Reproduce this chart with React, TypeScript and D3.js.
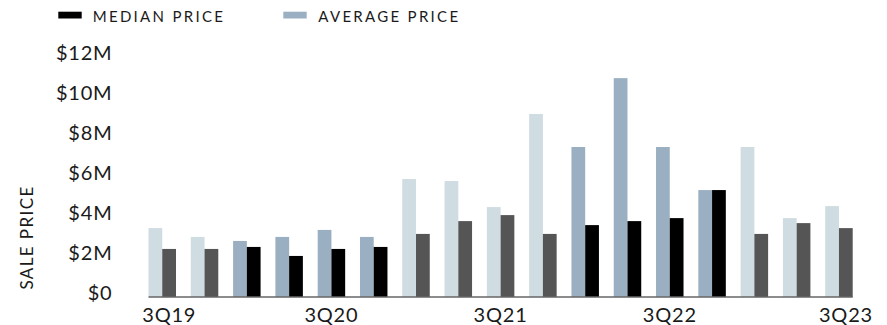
import React from "react";
import * as d3 from "d3";

// Quarterly sale prices, in $ millions
const quarters = [
  "3Q19", "4Q19", "1Q20", "2Q20", "3Q20", "4Q20", "1Q21", "2Q21", "3Q21",
  "4Q21", "1Q22", "2Q22", "3Q22", "4Q22", "1Q23", "2Q23", "3Q23",
];
const averagePrice = [
  3.44, 3.0, 2.8, 3.0, 3.35, 3.0, 5.89, 5.79, 4.49,
  9.14, 7.49, 10.93, 7.49, 5.34, 7.49, 3.94, 4.54,
];
const medianPrice = [
  2.4, 2.4, 2.5, 2.05, 2.4, 2.5, 3.15, 3.79, 4.09,
  3.15, 3.59, 3.79, 3.94, 5.34, 3.15, 3.69, 3.44,
];
// Quarters drawn in the emphasised (darker) palette
const emphasised = [
  false, false, true, true, true, true, false, false, false,
  false, true, true, true, true, false, false, false,
];
const yTicks = [0, 2, 4, 6, 8, 10, 12];
const xLabels = ["3Q19", "3Q20", "3Q21", "3Q22", "3Q23"];

const W = 887;
const H = 325;
const FONT = "Lato, 'Noto Sans', sans-serif";

const COLORS = {
  avgLight: "#cfdce2",
  avgDark: "#9ab0c2",
  medLight: "#555555",
  medDark: "#000000",
  axis: "#666666",
  text: "#1a1a1a",
};

export default function App() {
  const x = d3
    .scaleBand<string>()
    .domain(quarters)
    .range([148.5, 852.7])
    .paddingInner(0.35)
    .paddingOuter(0);
  const inner = d3
    .scaleBand<string>()
    .domain(["avg", "med"])
    .range([0, x.bandwidth()]);
  const y = d3.scaleLinear().domain([0, 12]).range([297, 56.7]);

  const labelShift = (q: string) => {
    if (q === quarters[0]) return 7;
    if (q === quarters[quarters.length - 1]) return 7;
    return 0;
  };

  return (
    <svg
      width={W}
      height={H}
      style={{ position: "absolute", left: 0, top: 0, display: "block" }}
    >
      <rect width={W} height={H} fill="#fff" />

      {/* legend */}
      <g fontFamily={FONT} fontSize={15} letterSpacing={2.3} fill={COLORS.text}>
        <rect x={58.3} y={11.7} width={23.4} height={6.8} fill={COLORS.medDark} />
        <text x={92.7} y={21.7}>MEDIAN PRICE</text>
        <rect x={283.3} y={11.7} width={23.4} height={6.8} fill={COLORS.avgDark} />
        <text x={318.3} y={21.7}>AVERAGE PRICE</text>
      </g>

      {/* y axis title */}
      <text
        transform={`translate(33.3, 237.5) rotate(-90)`}
        textAnchor="middle"
        fontFamily={FONT}
        fontSize={17}
        letterSpacing={1.4}
        fill={COLORS.text}
      >
        SALE PRICE
      </text>

      {/* y tick labels */}
      <g fontFamily={FONT} fontSize={20} letterSpacing={0.8} fill={COLORS.text} textAnchor="end">
        {yTicks.map((t) => (
          <text key={t} x={112.5} y={y(t) - 4} dy="0.35em">
            {t === 0 ? "$0" : `$${t}M`}
          </text>
        ))}
      </g>

      {/* bars */}
      <g>
        {quarters.map((q, i) => {
          const x0 = x(q) as number;
          const dark = emphasised[i];
          return (
            <g key={q}>
              <rect
                x={x0 + (inner("avg") as number)}
                y={y(averagePrice[i])}
                width={inner.bandwidth()}
                height={y(0) - y(averagePrice[i])}
                fill={dark ? COLORS.avgDark : COLORS.avgLight}
              />
              <rect
                x={x0 + (inner("med") as number)}
                y={y(medianPrice[i])}
                width={inner.bandwidth()}
                height={y(0) - y(medianPrice[i])}
                fill={dark ? COLORS.medDark : COLORS.medLight}
              />
            </g>
          );
        })}
      </g>

      {/* baseline */}
      <line
        x1={x(quarters[0]) as number}
        x2={(x(quarters[quarters.length - 1]) as number) + x.bandwidth()}
        y1={y(0)}
        y2={y(0)}
        stroke={COLORS.axis}
        strokeWidth={1.5}
      />

      {/* x labels */}
      <g fontFamily={FONT} fontSize={20} letterSpacing={0.8} fill={COLORS.text} textAnchor="middle">
        {xLabels.map((q) => (
          <text
            key={q}
            x={(x(q) as number) + x.bandwidth() / 2 + labelShift(q)}
            y={322}
          >
            {q}
          </text>
        ))}
      </g>
    </svg>
  );
}
